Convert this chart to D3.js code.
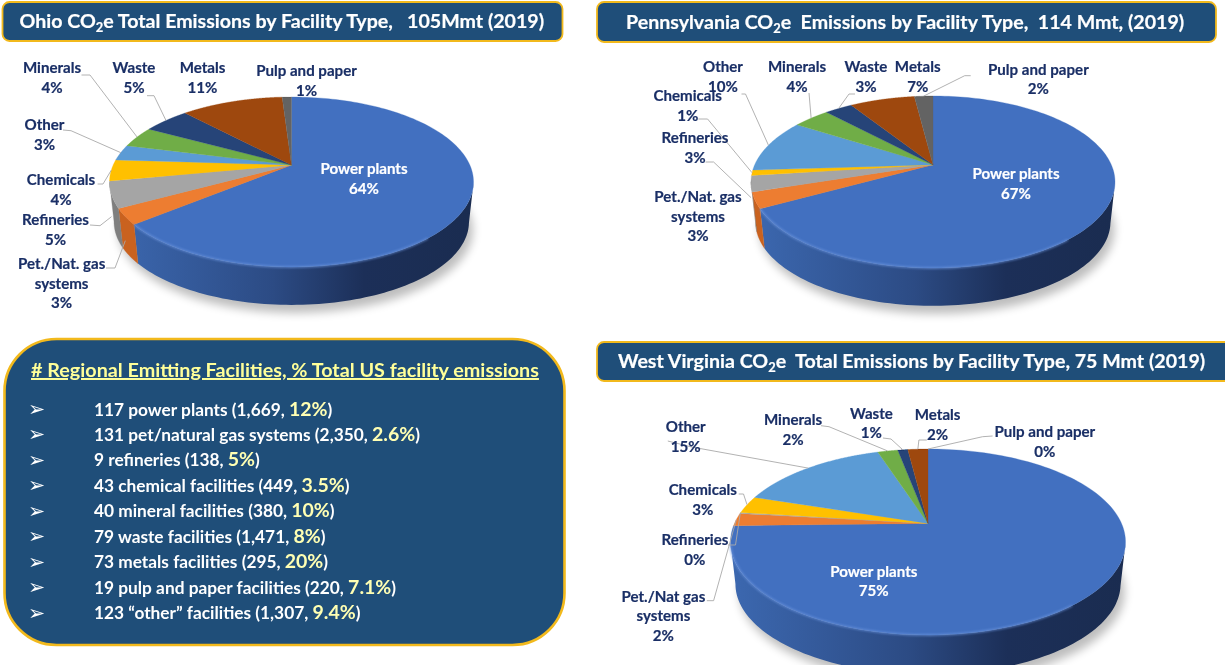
<!DOCTYPE html>
<html><head><meta charset="utf-8">
<script src="https://cdn.jsdelivr.net/npm/d3@7"></script>
<style>
html,body{margin:0;padding:0;background:#fff;overflow:hidden}
svg{display:block;filter:blur(0.4px)}
text{font-family:Lato,"Open Sans",sans-serif;font-weight:700;white-space:pre}
</style></head><body>
<svg id="c" width="1225" height="665"></svg>
<script>
// ---------- data ----------
const categories = ["Power plants","Pet./Nat. gas systems","Refineries","Chemicals","Other","Minerals","Waste","Metals","Pulp and paper"];
const ohioValues = [64,3,5,4,3,4,5,11,1];
const paValues   = [67,3,3,1,10,4,3,7,2];
const wvValues   = [74.6,2.2,0.2,3,15,2,1,2,0];
const sliceColors = ["#4270c0","#ed7d31","#a5a5a5","#ffc000","#5b9bd5","#70ad47","#264478","#9e480e","#636363"];
const sideColors  = ["#2c4c85","#c9621f","#7f7f7f","#c79500","#3f75a8","#4f8030","#1a2f55","#6e320a","#454545"];
const ohioTitle = ["Ohio CO","e Total Emissions by Facility Type,   105Mmt (2019)"];
const paTitle   = ["Pennsylvania CO","e  Emissions by Facility Type,  114 Mmt, (2019)"];
const wvTitle   = ["West Virginia CO","e  Total Emissions by Facility Type, 75 Mmt (2019)"];
const infoHeading = "# Regional Emitting Facilities, % Total US facility emissions";
const facilityText = ["117 power plants (1,669, ","131 pet/natural gas systems (2,350, ","9 refineries (138, ","43 chemical facilities (449, ","40 mineral facilities (380, ","79 waste facilities (1,471, ","73 metals facilities (295, ","19 pulp and paper facilities (220, ","123 \u201cother\u201d facilities (1,307, "];
const facilityShare = ["12%","2.6%","5%","3.5%","10%","8%","20%","7.1%","9.4%"];

// ---------- layout ----------
const ohioLayout = {
  cx:291.5, cy:182, rx:182, ry:85, depth:40, k:0.975, apexShift:0.2,
  values:ohioValues,
  names:[["Power plants"],["Pet./Nat. gas","systems"],["Refineries"],["Chemicals"],["Other"],["Minerals"],["Waste"],["Metals"],["Pulp and paper"]],
  labels:[[364,169],[61.6,264],[55.5,220],[61,180],[44.5,125],[52,68],[134,68],[202.5,68],[306.5,71]],
  leaders:[null,[[106,268],[115,268]],[[90,225],[100,225.7]],[[97.6,184],[103,184]],[[63,130],[71,130.7]],[[81.5,75],[90,75]],[[147,95.7],[154,95.7]],null,null],
  drop:[0,24,22,0,0,0,0,0,0]
};
const paLayout = {
  cx:933, cy:182, rx:182, ry:86, depth:40, k:0.975, apexShift:0.2,
  values:paValues,
  names:[["Power plants"],["Pet./Nat. gas","systems"],["Refineries"],["Chemicals"],["Other"],["Minerals"],["Waste"],["Metals"],["Pulp and paper"]],
  labels:[[1016,174],[698,197],[695,138],[687.7,96],[723,67],[797,67],[866,67],[917.7,67],[1038.4,69.5]],
  leaders:[null,null,[[705.6,162],[713.6,162]],[[698.4,119],[707.6,119]],[[741.5,94],[745.5,94]],[[809,93]],[[855,94],[849,94]],null,[[970.7,75.7],[964.7,75.7]]],
  drop:[0,0,14,0,0,0,0,0,0]
};
const wvLayout = {
  cx:928, cy:542, rx:197.5, ry:93, depth:42, k:0.975, apexShift:0.2,
  values:wvValues,
  names:[["Power plants"],["Pet./Nat gas","systems"],["Refineries"],["Chemicals"],["Other"],["Minerals"],["Waste"],["Metals"],["Pulp and paper"]],
  labels:[[873.8,571.7],[663.4,596.7],[694.9,540],[702.8,490],[685.7,427],[793,420],[871.4,413.7],[937.6,415.3],[1044.8,432]],
  leaders:[null,[[706.8,600.7],[713.6,600.7]],[[728,545],[735.5,545]],[[738.7,494],[743.5,494]],[[667.8,441],[691.7,447]],[[821,425.7],[829,426.7]],[[883,438],[891,439]],[[926.8,440],[918.9,440]],[[992.6,436],[982.6,436.7]]],
  drop:[0,0,0,0,0,0,0,0,0]
};
const lineH = 19.5, labelSize = 15.1;

const svg = d3.select("#c");
const defs = svg.append("defs");
defs.append("filter").attr("id","soft").attr("x","-20%").attr("y","-30%").attr("width","140%").attr("height","160%")
  .append("feGaussianBlur").attr("stdDeviation",5);
defs.append("filter").attr("id","edge").append("feGaussianBlur").attr("stdDeviation",0.8);

const fillOf = d3.scaleOrdinal(categories, sliceColors);
const sideOf = d3.scaleOrdinal(categories, sideColors);
const pie = d3.pie().sort(null).value(d=>d.value).startAngle(0).endAngle(2*Math.PI);
const line = d3.line();

function drawPie(L, id){
  const g = svg.append("g");
  // perspective map of the circle: slice angle -> normalised rim position
  const e = L.apexShift, a = e/(1+Math.sqrt(1-e*e));
  const rim = th => {
    const x=Math.sin(th), y=Math.cos(th);
    const nr=x, ni=y+a, dr=1+a*y, di=-a*x, m=dr*dr+di*di;
    return [(nr*dr+ni*di)/m, (ni*dr-nr*di)/m];
  };
  const top = ([u,v]) => [L.cx+u*L.rx, L.cy-v*L.ry];
  const low = ([u,v]) => [L.cx+u*L.rx*L.k, L.cy+L.depth-v*L.ry*L.k];
  const apex = top([0,e]);
  const arcs = pie(categories.map((c,i)=>({cat:c,value:L.values[i]})));
  const samples = d => d3.range(0,161).map(i=>d.startAngle+(d.endAngle-d.startAngle)*i/160);

  // gradient for the dark side of the largest wedge
  const grad = defs.append("linearGradient").attr("id","side"+id).attr("gradientUnits","userSpaceOnUse")
    .attr("x1",L.cx-L.rx).attr("x2",L.cx+L.rx).attr("y1",0).attr("y2",0);
  [[0,"#3c68b0"],[0.45,"#2c4b84"],[0.7,"#1c2f58"],[1,"#1a2c50"]].forEach(s=>grad.append("stop").attr("offset",s[0]).attr("stop-color",s[1]));

  // soft shadow
  g.append("ellipse").attr("cx",L.cx+4).attr("cy",L.cy+L.depth+8).attr("rx",L.rx*L.k).attr("ry",L.ry*L.k)
    .attr("fill","#000").attr("opacity",0.26).attr("filter","url(#soft)");

  // sides
  g.selectAll("path.side").data(arcs).join("path").attr("class","side")
    .attr("d",d=>{
      const pts = samples(d).map(rim).filter(p=>p[1]<=0.003);
      if(pts.length<2) return null;
      return line(pts.map(top).concat(pts.slice().reverse().map(low)))+"Z";
    })
    .attr("fill",(d,i)=> i===0 ? `url(#side${id})` : sideOf(d.data.cat))
    .attr("stroke",(d,i)=> i===0 ? "none" : sideOf(d.data.cat)).attr("stroke-width",0.3);

  // top wedges
  g.selectAll("path.top").data(arcs).join("path").attr("class","top")
    .attr("d",d=> d.value>0 ? line([apex].concat(samples(d).map(rim).map(top)))+"Z" : null)
    .attr("fill",d=>fillOf(d.data.cat))
    .attr("stroke",d=>fillOf(d.data.cat)).attr("stroke-width",0.3);

  // lit front edge of the largest wedge
  const big = arcs[0];
  const edge = samples(big).map(rim).filter(p=>p[1]<0 && p[0]<0.75).map(top);
  g.append("path").attr("d",line(edge)).attr("fill","none").attr("stroke","#6d96e0")
    .attr("stroke-width",1.8).attr("opacity",0.75).attr("filter","url(#edge)");

  // leader lines end at the wedge they belong to
  const leaders = arcs.map((d,i)=>({d,i,pts:L.leaders[i]})).filter(o=>o.pts);
  g.selectAll("path.leader").data(leaders).join("path").attr("class","leader")
    .attr("d",o=>{
      const [x,y]=top(rim((o.d.startAngle+o.d.endAngle)/2));
      return line(o.pts.concat([[x,y+L.drop[o.i]]]));
    })
    .attr("fill","none").attr("stroke","#a9a9a9").attr("stroke-width",0.9);

  // labels
  const lab = g.selectAll("text.lab").data(arcs).join("text").attr("class","lab")
    .attr("text-anchor","middle").attr("font-size",labelSize)
    .attr("fill",(d,i)=> i===0 ? "#ffffff" : "#1a2f66")
    .attr("stroke",(d,i)=> i===0 ? "#ffffff" : "#1a2f66").attr("stroke-width",0.2)
    .attr("transform",(d,i)=>`translate(${L.labels[i][0]},${L.labels[i][1]+5})`);
  lab.each(function(d,i){
    const rows = L.names[i].concat([Math.round(d.data.value)+"%"]);
    d3.select(this).selectAll("tspan").data(rows).join("tspan")
      .attr("x",0).attr("y",(r,j)=>j*lineH).text(r=>r);
  });
}

function titleBox(x,y,w,h,parts,tx,size){
  const g = svg.append("g");
  g.append("rect").attr("x",x).attr("y",y).attr("width",w).attr("height",h).attr("rx",7)
    .attr("fill","#1f4e79").attr("stroke","#f2b91c").attr("stroke-width",1.8);
  const t = g.append("text").attr("x",tx).attr("y",y+h/2+6.5).attr("fill","#fff").attr("font-size",size)
    .attr("stroke","#fff").attr("stroke-width",0.2);
  t.append("tspan").text(parts[0]);
  t.append("tspan").attr("dy",4).attr("font-size",size*0.66).text("2");
  t.append("tspan").attr("dy",-4).text(parts[1]);
}

drawPie(ohioLayout,"o");
drawPie(paLayout,"p");
drawPie(wvLayout,"w");

titleBox(2.5,2,560,39,ohioTitle,19.5,19.6);
titleBox(597,2,619,40,paTitle,626,19.6);
titleBox(597,342,640,39,wvTitle,618,19.6);

// info panel
const info = svg.append("g");
info.append("rect").attr("x",4.5).attr("y",339).attr("width",560).attr("height",306).attr("rx",52)
  .attr("fill","#1f4e79").attr("stroke","#f2b91c").attr("stroke-width",2.6);
info.append("text").attr("x",31).attr("y",377).attr("font-size",19.75).attr("fill","#ffff99")
  .attr("text-decoration","underline").text(infoHeading);
const rowY = d3.scalePoint().domain(d3.range(facilityText.length)).range([415.5,619]);
const rows = info.selectAll("g.row").data(facilityText).join("g").attr("class","row");
rows.append("text").attr("x",28).attr("y",(d,i)=>rowY(i)+0.5)
  .attr("font-size",20.5).attr("fill","#fff")
  .style("font-family","'DejaVu Sans'").style("font-weight",400).text("\u27A2");
const rowText = rows.append("text").attr("x",94).attr("y",(d,i)=>rowY(i)).attr("font-size",17.3).attr("fill","#fff");
rowText.append("tspan").text(d=>d);
rowText.append("tspan").attr("font-size",19.5).attr("fill","#ffffb3").text((d,i)=>facilityShare[i]);
rowText.append("tspan").text(")");
</script>
</body></html>
